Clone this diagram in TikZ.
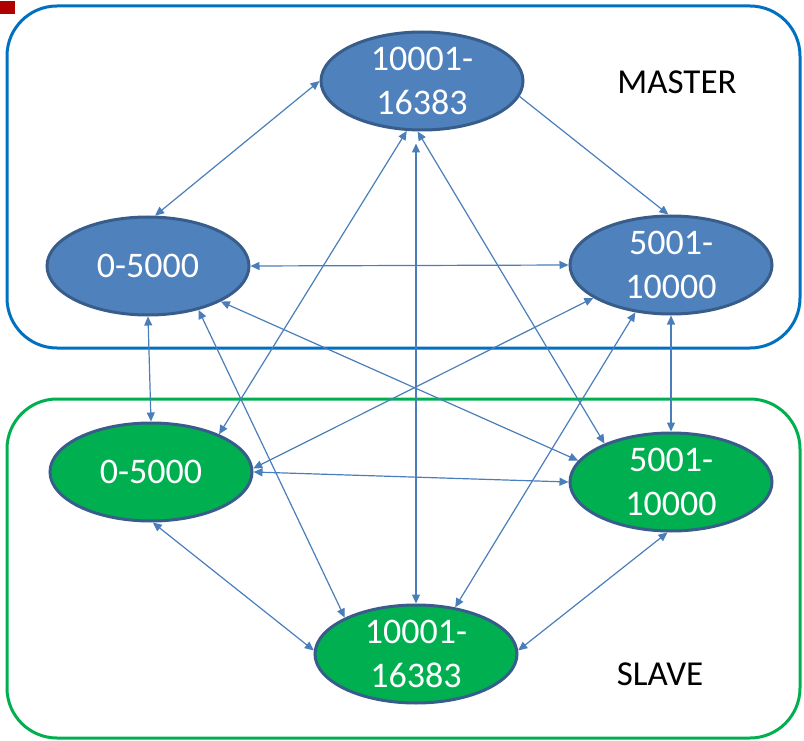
\documentclass[tikz,border=0pt]{standalone}
\usepackage{fontspec}
\setmainfont{Carlito}
\usetikzlibrary{arrows.meta,shapes.geometric}
\definecolor{boxblue}{HTML}{0070C0}
\definecolor{boxgreen}{HTML}{00B050}
\definecolor{nodeblue}{HTML}{4F81BD}
\definecolor{nodegreen}{HTML}{00B050}
\definecolor{nodeborder}{HTML}{385D8A}
\definecolor{linkblue}{HTML}{4A7EBB}
\definecolor{markred}{HTML}{B00000}
\begin{document}
\begin{tikzpicture}[x=1pt,y=-1pt,
  grp/.style={line width=3pt, rounded corners=50pt},
  rangenode/.style={ellipse, minimum width=202pt, minimum height=98pt, inner sep=0pt,
    draw=nodeborder, line width=3pt, text=white, font=\fontsize{36}{44}\selectfont, align=center},
  mnode/.style={rangenode, fill=nodeblue},
  snode/.style={rangenode, fill=nodegreen},
  conn/.style={draw=linkblue, line width=1.2pt, {Triangle[length=9pt,width=8pt]}-{Triangle[length=9pt,width=8pt]}},
  oneconn/.style={draw=linkblue, line width=1.2pt, -{Triangle[length=9pt,width=8pt]}},
  grouptitle/.style={font=\fontsize{35}{42}\selectfont, text=black}
]
\useasboundingbox (0,0) rectangle (804,741);
\fill[markred] (0,1) rectangle (15,14);
\draw[grp, boxblue] (7,6) rectangle (800,348);
\draw[grp, boxgreen] (7,399) rectangle (800,738);
\node[grouptitle] (mlabel) at (677,82) {MASTER};
\node[grouptitle] (slabel) at (660,674) {SLAVE};

\node[mnode] (MT) at (422,81) {10001-\\16383};
\node[mnode] (ML) at (148,266) {0-5000};
\node[mnode] (MR) at (671,265) {5001-\\10000};
\node[snode] (SL) at (151,472) {0-5000};
\node[snode] (SR) at (671,482) {5001-\\10000};
\node[snode] (SB) at (416,654) {10001-\\16383};

\path (SB.north |- MT.south) ++(0,12) coordinate (vtop);

\draw[conn] (MT.180) -- (ML.82);
\draw[oneconn] (MT.-9) -- (MR.93);
\draw[conn] (ML.0) -- (MR.180);
\draw[conn] (ML.-90) -- (SL.90);
\draw[conn] (MR.-90) -- (SR.90);
\draw[conn] (ML.-41) -- (SB.153);
\draw[conn] (ML.-26) -- (SR.167);
\draw[conn] (MT.-107) -- (SL.29);
\draw[conn] (vtop) -- (SB.north);
\draw[conn] (MT.-95) -- (SR.150);
\draw[conn] (SL.2) -- (MR.-157);
\draw[conn] (MR.-127) -- (SB.50);
\draw[conn] (SL.0) -- (SR.180);
\draw[conn] (SL.-88) -- (SB.178);
\draw[conn] (SR.-94) -- (SB.2);
\end{tikzpicture}
\end{document}
